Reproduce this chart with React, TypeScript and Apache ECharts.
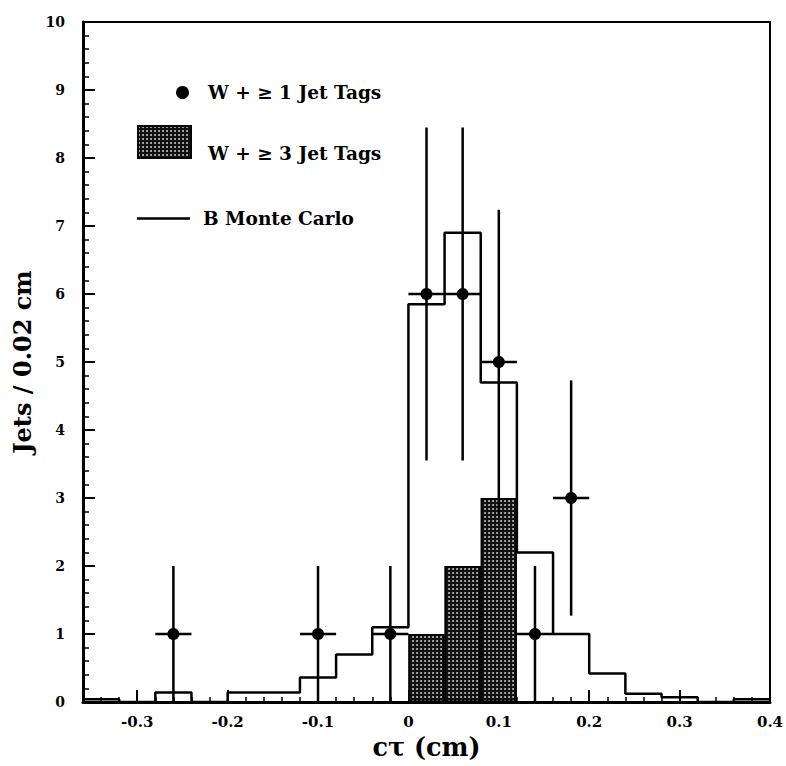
import React, { useEffect, useRef } from "react";
import * as echarts from "echarts";

const X_MIN = -0.36;
const X_MAX = 0.4;
const MINOR_STEP = 0.02;
const ERR_HALF_WIDTH = 0.02;

// B Monte Carlo histogram: left bin edges and contents
const mcBinLeft = [-0.36, -0.32, -0.28, -0.24, -0.2, -0.16, -0.12, -0.08, -0.04, 0, 0.04, 0.08, 0.12, 0.16, 0.2, 0.24, 0.28, 0.32, 0.36];
const mcValues = [0.04, 0, 0.14, 0, 0.14, 0.14, 0.36, 0.7, 1.1, 5.85, 6.9, 4.7, 2.2, 1.0, 0.42, 0.12, 0.07, 0, 0.04];

// W + >=1 jet tags data points with error bars
const tag1X = [-0.26, -0.1, -0.02, 0.02, 0.06, 0.1, 0.14, 0.18];
const tag1Y = [1, 1, 1, 6, 6, 5, 1, 3];
const tag1Low = [0, 0, 0, 3.55, 3.55, 2.76, 0, 1.27];
const tag1High = [2, 2, 2, 8.45, 8.45, 7.24, 2, 4.73];

// W + >=3 jet tags shaded histogram (bin centres)
const tag3X = [0.02, 0.06, 0.1];
const tag3Y = [1, 2, 3];

const xMajorTicks = [-0.3, -0.2, -0.1, 0, 0.1, 0.2, 0.3, 0.4];

const NAME1 = "W + \u2265 1 Jet Tags";
const NAME3 = "W + \u2265 3 Jet Tags";
const NAMEMC = "B Monte Carlo";

const FONT = "DejaVu Serif";
const LEGEND_SIZE = 18.5;

export default function App() {
  const ref = useRef<HTMLDivElement>(null);
  useEffect(() => {
    if (!ref.current) return;
    const chart = echarts.init(ref.current, null, { renderer: "svg" });

    const mcData: number[][] = mcBinLeft.map((x, i) => [x, mcValues[i]]);
    mcData.push([X_MAX, mcValues[mcValues.length - 1]]);

    const errData = tag1X.map((x, i) => [x, tag1Y[i], tag1Low[i], tag1High[i]]);

    const legendText = { fontFamily: FONT, fontSize: LEGEND_SIZE, fontWeight: "bold", color: "#000" };

    chart.setOption({
      animation: false,
      backgroundColor: "#fff",
      grid: {
        left: 83,
        right: 16,
        top: 22,
        bottom: 64,
        containLabel: false,
        outerBoundsMode: "none",
        show: true,
        borderColor: "#000",
        borderWidth: 2,
      },
      legend: [
        {
          data: [NAME1],
          left: 176,
          top: 83,
          padding: 0,
          itemWidth: 13,
          itemHeight: 13,
          icon: "circle",
          selectedMode: false,
          itemStyle: { opacity: 1 },
          textStyle: { ...legendText, padding: [0, 0, 0, 14] },
        },
        {
          data: [NAME3],
          left: 137,
          top: 125,
          padding: 0,
          itemWidth: 53,
          itemHeight: 32,
          icon: "rect",
          selectedMode: false,
          formatter: () => "",
        },
        {
          data: [NAMEMC],
          left: 137,
          top: 209,
          padding: 0,
          itemWidth: 53,
          itemHeight: 2.5,
          icon: "rect",
          selectedMode: false,
          textStyle: { ...legendText, padding: [0, 0, 0, 8] },
        },
      ],
      graphic: [
        {
          type: "text",
          x: 208,
          y: 153,
          style: {
            text: NAME3,
            fontFamily: FONT,
            fontSize: LEGEND_SIZE,
            fontWeight: "bold",
            fill: "#000",
            verticalAlign: "middle",
            align: "left",
          },
        },
      ],
      xAxis: [
        {
          type: "value",
          min: X_MIN,
          max: X_MAX,
          position: "bottom",
          name: "c\u03c4 (cm)",
          nameLocation: "middle",
          nameGap: 28,
          nameTextStyle: { fontFamily: FONT, fontSize: 25.5, fontWeight: "bold", color: "#000" },
          axisLine: { show: true, onZero: false, lineStyle: { color: "#000", width: 3 } },
          axisTick: { show: true, inside: true, length: 12, customValues: xMajorTicks, lineStyle: { color: "#000", width: 2 } },
          axisLabel: {
            show: true,
            customValues: xMajorTicks,
            margin: 12,
            fontFamily: FONT,
            fontSize: 15,
            fontWeight: "bold",
            color: "#000",
            formatter: (v: number) => String(Math.round(v * 10) / 10),
          },
          splitLine: { show: false },
        },
        {
          type: "value",
          min: X_MIN,
          max: X_MAX,
          interval: MINOR_STEP,
          position: "bottom",
          axisLine: { show: false },
          axisTick: { show: true, inside: true, length: 5, lineStyle: { color: "#000", width: 1.5 } },
          axisLabel: { show: false },
          splitLine: { show: false },
        },
      ],
      yAxis: {
        type: "value",
        min: 0,
        max: 10,
        interval: 1,
        name: "Jets / 0.02 cm",
        nameLocation: "middle",
        nameGap: 44,
        nameTextStyle: { fontFamily: FONT, fontSize: 24, fontWeight: "bold", color: "#000" },
        axisLine: { show: true, onZero: false, lineStyle: { color: "#000", width: 3 } },
        axisTick: { show: true, inside: true, length: 12, lineStyle: { color: "#000", width: 2 } },
        minorTick: { show: true, splitNumber: 5, length: 6, lineStyle: { color: "#000", width: 1.5 } },
        axisLabel: { margin: 18, fontFamily: FONT, fontSize: 14, fontWeight: "bold", color: "#000" },
        splitLine: { show: false },
        minorSplitLine: { show: false },
      },
      series: [
        {
          name: NAME3,
          type: "bar",
          xAxisIndex: 0,
          yAxisIndex: 0,
          data: tag3X.map((x, i) => [x, tag3Y[i]]),
          barWidth: "100%",
          itemStyle: {
            color: "#111",
            borderColor: "#000",
            borderWidth: 1.5,
            decal: {
              symbol: "circle",
              symbolSize: 0.9,
              color: "rgba(255,255,255,0.8)",
              dashArrayX: [[2, 2]],
              dashArrayY: [2, 2],
              rotation: 0,
            },
          },
          z: 2,
        },
        {
          name: NAMEMC,
          type: "line",
          xAxisIndex: 0,
          yAxisIndex: 0,
          step: "end",
          symbol: "none",
          data: mcData,
          lineStyle: { color: "#000", width: 2.5 },
          itemStyle: { color: "#000" },
          z: 3,
        },
        {
          name: "errors",
          type: "custom",
          xAxisIndex: 0,
          yAxisIndex: 0,
          data: errData,
          encode: { x: 0, y: 1 },
          renderItem: (_params: any, api: any) => {
            const x = api.value(0);
            const y = api.value(1);
            const lo = api.value(2);
            const hi = api.value(3);
            const pLo = api.coord([x, lo]);
            const pHi = api.coord([x, hi]);
            const pL = api.coord([x - ERR_HALF_WIDTH, y]);
            const pR = api.coord([x + ERR_HALF_WIDTH, y]);
            return {
              type: "group",
              children: [
                { type: "line", shape: { x1: pLo[0], y1: pLo[1], x2: pHi[0], y2: pHi[1] }, style: { stroke: "#000", lineWidth: 2.5 } },
                { type: "line", shape: { x1: pL[0], y1: pL[1], x2: pR[0], y2: pR[1] }, style: { stroke: "#000", lineWidth: 2.5 } },
              ],
            };
          },
          z: 4,
        },
        {
          name: NAME1,
          type: "scatter",
          xAxisIndex: 0,
          yAxisIndex: 0,
          data: tag1X.map((x, i) => [x, tag1Y[i]]),
          symbol: "circle",
          symbolSize: 12,
          itemStyle: { color: "#000", opacity: 1 },
          z: 5,
        },
      ],
    });
    return () => chart.dispose();
  }, []);
  return <div ref={ref} style={{ position: "fixed", left: 0, top: 0, width: 786, height: 766 }} />;
}
